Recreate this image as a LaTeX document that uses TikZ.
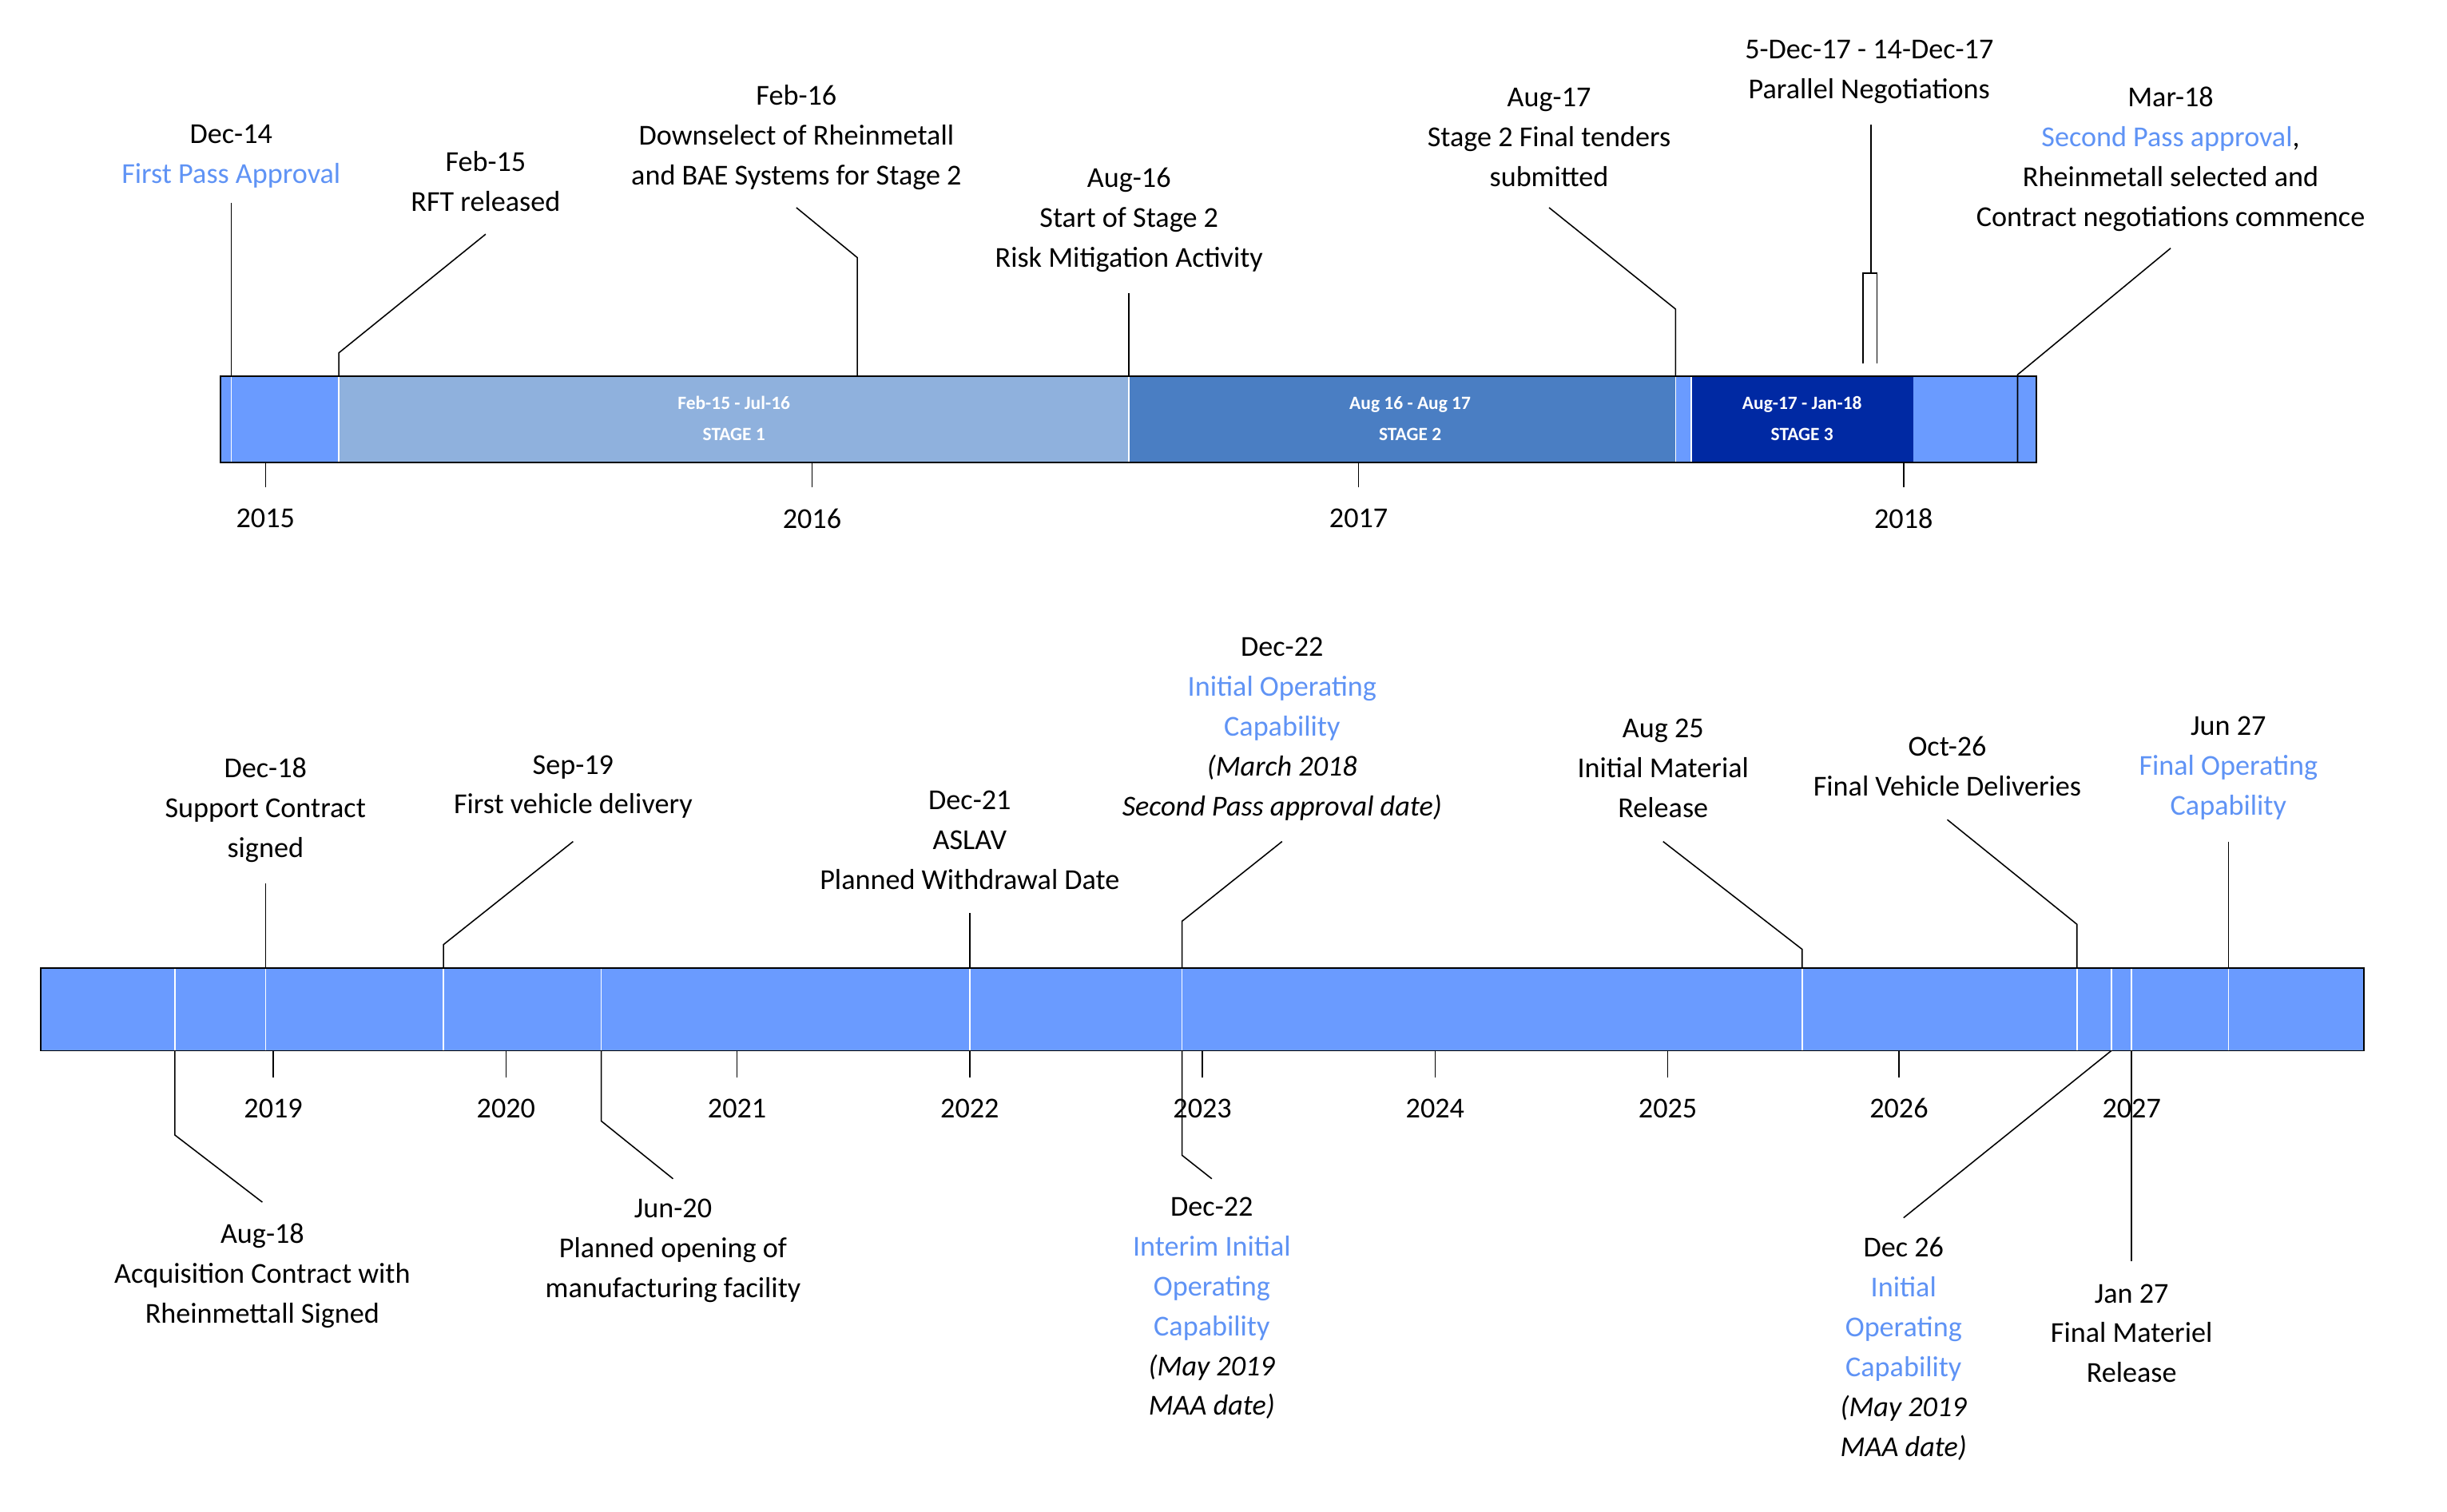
\documentclass[tikz,border=0pt]{standalone}
\usepackage{fontspec}
\setmainfont{Carlito}
\usetikzlibrary{positioning}
\definecolor{barblue}{HTML}{6A9BFF}
\definecolor{stageone}{HTML}{8FB1DD}
\definecolor{stagetwo}{HTML}{4A7EC3}
\definecolor{stagethree}{HTML}{0029A3}
\definecolor{passblue}{HTML}{5F93F5}
\tikzset{
  lbl/.style={align=center, inner sep=0pt, font=\fontsize{18.5}{25.5}\selectfont},
  stagelbl/.style={align=center, inner sep=0pt, text=white, font=\fontsize{12}{20}\selectfont\bfseries},
  yearlbl/.style={inner sep=0pt, font=\fontsize{18.5}{22}\selectfont},
  lead/.style={black, line width=0.8pt},
  sep/.style={white, line width=0.8pt}
}
\newcommand{\pb}[1]{\textcolor{passblue}{#1}}
\begin{document}
\begin{tikzpicture}[x=1pt,y=-1pt]
\useasboundingbox (0,0) rectangle (1567,968);
% top bar
\fill[barblue] (141,241) rectangle (1304,296);
\fill[stageone] (217,241) rectangle (723,296);
\fill[stagetwo] (723,241) rectangle (1073,296);
\fill[stagethree] (1083,241) rectangle (1225,296);
\foreach \x in {148,217,723,1073,1083} \draw[sep] (\x,241) -- (\x,296);
\draw[line width=1pt] (141,241) rectangle (1304,296);
\node[stagelbl] (s1) at (470,268) {Feb-15 - Jul-16\\STAGE 1};
\node[stagelbl] (s2) at (903,268) {Aug 16 - Aug 17\\STAGE 2};
\node[stagelbl] (s3) at (1154,268) {Aug-17 - Jan-18\\STAGE 3};
\foreach \x/\y in {170/2015,520/2016,870/2017,1219/2018}{
  \draw[lead] (\x,296) -- (\x,312);
  \node[yearlbl] at (\x,332) {\y};
}
% top labels
\node[lbl] (dec14) at (148,100) {Dec-14\\\pb{First Pass Approval}};
\node[lbl] (feb15) at (311,116) {Feb-15\\RFT released};
\node[lbl] (feb16) at (510,88) {Feb-16\\Downselect of Rheinmetall\\and BAE Systems for Stage 2};
\node[lbl] (aug16) at (723,141) {Aug-16\\Start of Stage 2\\Risk Mitigation Activity};
\node[lbl] (aug17) at (992,88) {Aug-17\\Stage 2 Final tenders\\submitted};
\node[lbl] (dec17) at (1197,46) {5-Dec-17 - 14-Dec-17\\Parallel Negotiations};
\node[lbl] (mar18) at (1390,102) {Mar-18\\\pb{Second Pass approval},\\Rheinmetall selected and\\Contract negotiations commence};
\draw[lead] (148,130) -- (148,241);
\draw[lead] (311,150) -- (217,226) -- (217,241);
\draw[lead] (510,133) -- (549,165) -- (549,241);
\draw[lead] (723,188) -- (723,241);
\draw[lead] (992,133) -- (1073,198) -- (1073,241);
\draw[lead] (1198,80) -- (1198,175);
\draw[lead] (1193,233) -- (1193,175) -- (1202,175) -- (1202,233);
\draw[lead] (1390,159) -- (1292,240) -- (1292,296);
% bottom bar
\fill[barblue] (26,620) rectangle (1514,673);
\foreach \x in {112,170,284,385,621,757,1154,1330,1352,1365,1427} \draw[sep] (\x,620) -- (\x,673);
\draw[line width=1pt] (26,620) rectangle (1514,673);
\foreach \x/\y in {175/2019,324/2020,472/2021,621/2022,770/2023,919/2024,1068/2025,1216/2026,1365/2027}{
  \draw[lead] (\x,673) -- (\x,690);
  \node[yearlbl] at (\x,710) {\y};
}
% upper labels
\node[lbl] (dec18) at (170,519) {Dec-18\\Support Contract\\signed};
\node[lbl] (sep19) at (367,504) {Sep-19\\First vehicle delivery};
\node[lbl] (dec21) at (621,538) {Dec-21\\ASLAV\\Planned Withdrawal Date};
\node[lbl] (ioc22) at (821,467) {Dec-22\\\pb{Initial Operating}\\\pb{Capability}\\\textit{(March 2018}\\\textit{Second Pass approval date)}};
\node[lbl] (aug25) at (1065,492) {Aug 25\\Initial Material\\Release};
\node[lbl] (oct26) at (1247,491) {Oct-26\\Final Vehicle Deliveries};
\node[lbl] (jun27) at (1427,492) {Jun 27\\\pb{Final Operating}\\\pb{Capability}};
\draw[lead] (170,566) -- (170,620);
\draw[lead] (367,539) -- (284,605) -- (284,620);
\draw[lead] (621,585) -- (621,620);
\draw[lead] (821,539) -- (757,590) -- (757,620);
\draw[lead] (1065,539) -- (1154,608) -- (1154,620);
\draw[lead] (1247,525) -- (1330,592) -- (1330,620);
\draw[lead] (1427,539) -- (1427,620);
% lower labels
\node[lbl] (aug18) at (168,817) {Aug-18\\Acquisition Contract with\\Rheinmettall Signed};
\node[lbl] (jun20) at (431,801) {Jun-20\\Planned opening of\\manufacturing facility};
\node[lbl] (iioc22) at (776,838) {Dec-22\\\pb{Interim Initial}\\\pb{Operating}\\\pb{Capability}\\\textit{(May 2019}\\\textit{MAA date)}};
\node[lbl] (ioc26) at (1219,864) {Dec 26\\\pb{Initial}\\\pb{Operating}\\\pb{Capability}\\\textit{(May 2019}\\\textit{MAA date)}};
\node[lbl] (jan27) at (1365,854) {Jan 27\\Final Materiel\\Release};
\draw[lead] (112,673) -- (112,727) -- (168,770);
\draw[lead] (385,673) -- (385,718) -- (431,755);
\draw[lead] (757,673) -- (757,740) -- (776,755);
\draw[lead] (1352,673) -- (1219,780);
\draw[lead] (1365,673) -- (1365,808);
\end{tikzpicture}
\end{document}
